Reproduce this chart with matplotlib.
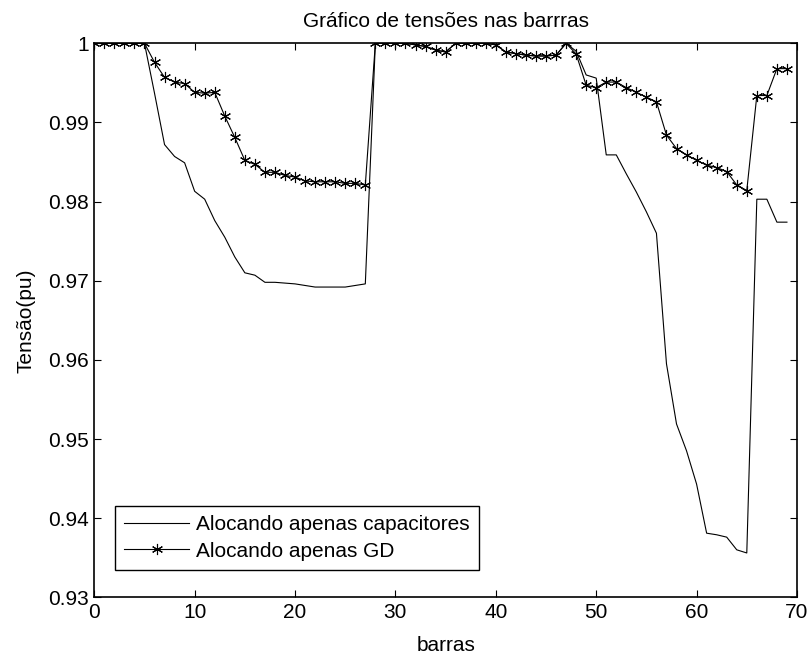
import matplotlib
matplotlib.use('Agg')
import matplotlib.pyplot as plt
import numpy as np

plt.rcParams['font.family'] = ['Liberation Sans', 'DejaVu Sans']

# barras 0..69
barras = list(range(70))

# Alocando apenas capacitores
v_cap = [1.0, 1.0, 1.0, 1.0, 1.0, 1.0, 0.9937, 0.9872, 0.9857, 0.9849,
         0.9813, 0.9803, 0.9776, 0.9755, 0.9730, 0.9710, 0.9707, 0.9698, 0.9698, 0.9697,
         0.9696, 0.9694, 0.9692, 0.9692, 0.9692, 0.9692, 0.9694, 0.9696, 1.0, 1.0,
         1.0, 1.0, 0.9998, 0.9996, 0.99915, 0.9989, 1.0, 1.0, 1.0, 1.0,
         0.9998, 0.9989, 0.9987, 0.9985, 0.9984, 0.9984, 0.9985, 1.0, 0.9990, 0.9960,
         0.9956, 0.9859, 0.9859, 0.9835, 0.9812, 0.9787, 0.9760, 0.9595, 0.9519, 0.9485,
         0.9443, 0.9381, 0.9379, 0.9376, 0.9360, 0.9356, 0.9803, 0.9803, 0.9774, 0.9774]

# Alocando apenas GD
v_gd = [1.0, 1.0, 1.0, 1.0, 1.0, 1.0, 0.9976, 0.9957, 0.9951, 0.9949,
        0.9938, 0.9937, 0.9938, 0.9908, 0.9881, 0.9852, 0.9847, 0.9837, 0.9837, 0.9833,
        0.9831, 0.9826, 0.9825, 0.9825, 0.9825, 0.9823, 0.9823, 0.9821, 1.0, 1.0,
        1.0, 1.0, 0.9998, 0.9996, 0.99915, 0.9989, 1.0, 1.0, 1.0, 1.0,
        0.9998, 0.9989, 0.9987, 0.9985, 0.9984, 0.9984, 0.9985, 1.0, 0.99865, 0.9947,
        0.9944, 0.9951, 0.9951, 0.9944, 0.9938, 0.9932, 0.9926, 0.9884, 0.9867, 0.9859,
        0.9852, 0.9846, 0.9843, 0.9838, 0.9821, 0.9814, 0.9934, 0.9934, 0.9968, 0.9968]

yticks = [0.93, 0.94, 0.95, 0.96, 0.97, 0.98, 0.99, 1.0]
ytick_labels = ['0.93', '0.94', '0.95', '0.96', '0.97', '0.98', '0.99', '1']
xticks = [0, 10, 20, 30, 40, 50, 60, 70]

fig = plt.figure(figsize=(8.12, 6.55), dpi=100)
ax = fig.add_axes([0.1161, 0.0881, 0.8654, 0.8458])

ax.plot(barras, v_cap, color='black', lw=0.8, label='Alocando apenas capacitores')
ax.plot(barras, v_gd, color='black', lw=0.8, marker=(6, 2, 0), markersize=8,
        markeredgewidth=0.8, label='Alocando apenas GD')

ax.set_xlim(0, 70)
ax.set_ylim(0.93, 1.0)
ax.set_xticks(xticks)
ax.set_yticks(yticks)
ax.set_yticklabels(ytick_labels)
ax.tick_params(direction='in', length=5, width=0.8, labelsize=15,
               top=True, right=True, pad=4)
for s in ax.spines.values():
    s.set_linewidth(1.2)

ax.set_title('Gráfico de tensões nas barrras', fontsize=15, pad=12)
ax.set_xlabel('barras', fontsize=15, labelpad=10)
ax.set_ylabel('Tensão(pu)', fontsize=15, labelpad=9)

leg = ax.legend(loc='lower left', bbox_to_anchor=(0.0296, 0.0493), borderaxespad=0,
                fontsize=15, fancybox=False, framealpha=1, edgecolor='black',
                handlelength=3.1, handletextpad=0.35, borderpad=0.45, labelspacing=0.35)
leg.get_frame().set_linewidth(1.0)

fig.savefig('out.png', dpi=100)
